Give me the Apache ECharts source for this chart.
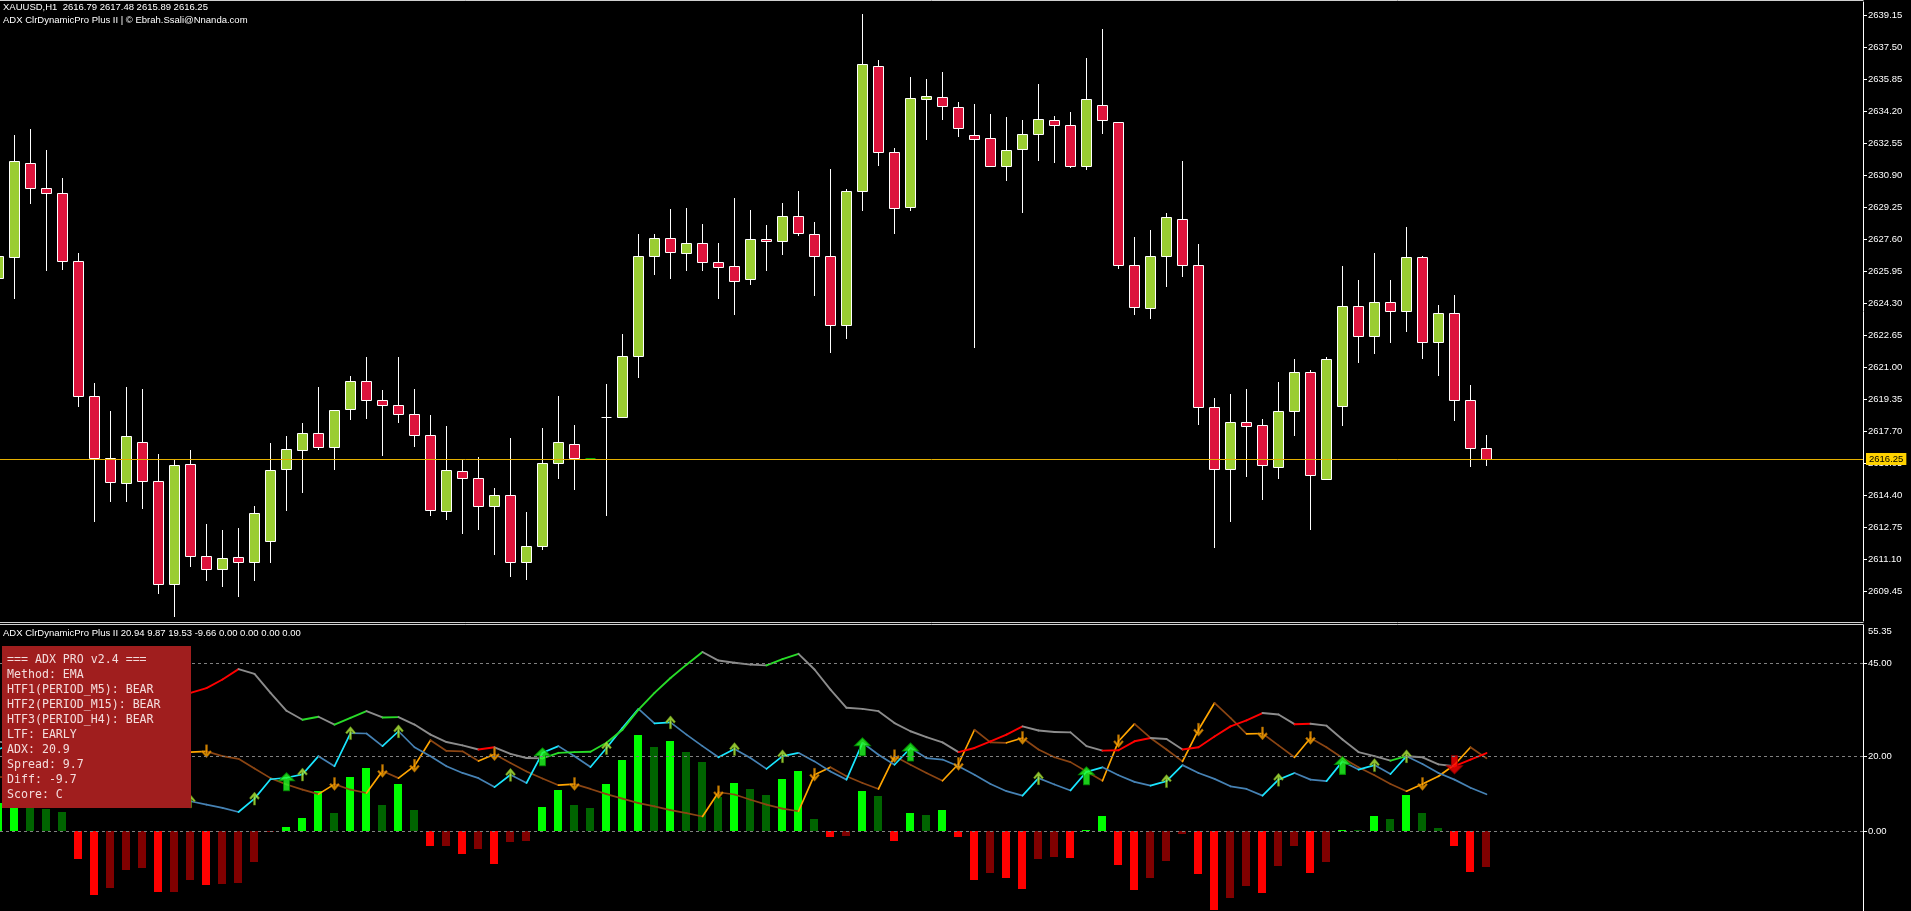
<!DOCTYPE html>
<html><head><meta charset="utf-8">
<script src="https://cdn.jsdelivr.net/npm/echarts@6/dist/echarts.min.js"></script>
<style>html,body{margin:0;padding:0;background:#000;overflow:hidden}#c{width:1911px;height:911px}</style>
</head><body><div id="c"></div>
<script>
// ---------- price data (XAUUSD H1) ----------
const opens = [2625.56,2626.66,2631.50,2630.22,2629.95,2626.45,2619.46,2616.26,2614.98,2617.10,
2615.08,2609.79,2615.96,2611.22,2610.57,2611.18,2610.91,2611.99,2615.73,2616.71,
2617.56,2616.87,2618.79,2620.23,2619.25,2619.01,2618.54,2617.46,2613.56,2615.59,
2615.25,2613.80,2614.37,2610.91,2611.73,2616.00,2617.02,2616.26,2618.40,2618.38,
2621.53,2626.68,2627.63,2626.86,2627.37,2626.39,2626.19,2625.52,2627.59,2627.49,
2628.77,2627.84,2626.72,2623.16,2630.03,2636.48,2632.07,2629.22,2634.77,2634.90,
2634.37,2632.92,2632.78,2631.34,2632.21,2632.98,2633.72,2633.45,2631.34,2634.47,
2633.59,2626.25,2624.03,2626.72,2628.61,2626.25,2618.89,2615.69,2618.13,2617.99,
2615.84,2618.68,2620.70,2615.18,2618.95,2624.13,2622.59,2624.34,2623.87,2626.66,
2622.24,2623.77,2619.25,2616.79];
const highs = [2627.00,2632.98,2633.27,2632.17,2630.75,2626.88,2620.17,2618.74,2619.97,2619.86,
2616.51,2616.20,2616.71,2612.89,2612.58,2612.68,2613.82,2617.06,2617.42,2618.09,
2619.97,2618.80,2620.51,2621.49,2619.82,2621.53,2619.86,2618.50,2617.93,2616.20,
2616.36,2614.78,2617.32,2613.50,2617.83,2619.50,2617.99,2616.26,2620.11,2622.71,
2627.86,2627.86,2629.12,2629.22,2628.35,2627.39,2629.69,2629.08,2628.31,2629.46,
2630.07,2628.47,2631.19,2630.18,2639.19,2636.85,2632.27,2635.93,2635.83,2636.20,
2634.65,2634.55,2634.04,2633.88,2633.74,2635.59,2633.96,2634.16,2636.95,2638.42,
2633.62,2627.69,2628.06,2628.92,2631.62,2627.35,2619.42,2619.60,2619.86,2618.34,
2620.21,2621.43,2620.84,2621.49,2626.21,2625.50,2626.88,2625.50,2628.24,2626.70,
2624.22,2624.72,2620.05,2617.48];
const lows = [2625.00,2624.48,2629.40,2625.97,2626.01,2618.95,2613.01,2614.03,2614.03,2613.66,
2609.29,2608.13,2610.71,2609.96,2609.63,2609.14,2609.94,2610.91,2613.56,2614.51,
2616.71,2615.69,2618.28,2618.34,2616.41,2618.09,2616.87,2613.31,2613.11,2612.40,
2612.58,2611.32,2610.16,2610.04,2611.58,2615.23,2614.64,2616.26,2613.29,2618.38,
2620.41,2625.72,2625.52,2625.97,2625.97,2624.48,2623.67,2625.21,2625.93,2626.78,
2627.74,2624.68,2621.73,2622.45,2629.06,2631.36,2627.84,2629.06,2632.72,2633.76,
2632.88,2621.96,2631.30,2630.60,2628.92,2631.62,2631.52,2631.25,2631.15,2633.02,
2626.07,2623.69,2623.48,2625.11,2625.62,2618.03,2611.67,2613.01,2615.33,2614.13,
2615.23,2617.42,2612.60,2615.18,2617.93,2621.19,2621.65,2622.22,2622.81,2621.43,
2620.53,2618.20,2615.84,2615.89];
const closes = [2626.72,2631.60,2630.20,2629.95,2626.45,2619.46,2616.26,2615.04,2617.40,2615.08,
2609.79,2615.90,2611.22,2610.57,2611.12,2610.91,2613.46,2615.65,2616.75,2617.56,
2616.87,2618.74,2620.23,2619.25,2619.01,2618.54,2617.46,2613.60,2615.65,2615.25,
2613.80,2614.37,2610.91,2611.73,2616.00,2617.12,2616.26,2616.26,2618.40,2621.53,
2626.68,2627.63,2626.92,2627.37,2626.41,2626.13,2625.42,2627.59,2627.49,2628.77,
2627.90,2626.70,2623.16,2630.05,2636.58,2632.07,2629.18,2634.83,2634.94,2634.41,
2633.29,2632.74,2631.34,2632.17,2632.98,2633.76,2633.43,2631.34,2634.79,2633.70,
2626.23,2624.09,2626.72,2628.71,2626.23,2618.89,2615.69,2618.13,2617.95,2615.90,
2618.68,2620.74,2615.39,2621.37,2624.13,2622.59,2624.34,2623.87,2626.66,2622.24,
2623.77,2619.25,2616.77,2616.25];

// ---------- indicator data ----------
const adx = [24.0,23.4,23.0,22.6,23.3,24.6,26.4,28.3,30.0,31.6,
33.4,35.1,37.1,38.4,40.7,43.5,42.2,37.1,32.3,29.9,
30.7,28.6,30.4,32.2,30.5,30.6,28.6,25.9,23.9,23.0,
21.9,22.5,20.7,19.6,19.5,21.0,21.2,21.3,23.7,27.2,
32.6,37.1,41.1,44.7,48.1,45.8,45.2,44.7,44.5,46.2,
47.6,43.4,38.0,33.1,32.8,32.2,29.0,26.8,25.2,23.8,
21.2,22.3,24.1,25.9,28.1,27.0,26.6,26.5,22.8,21.6,
21.7,24.1,25.0,24.7,21.9,22.5,25.4,28.1,29.7,31.7,
31.3,28.7,28.8,28.3,24.6,21.2,20.1,18.9,20.1,19.8,
17.9,17.4,19.2,20.94];
const plusDI = [22.0,23.5,21.8,20.6,19.0,14.5,11.0,11.8,12.8,12.0,
9.6,9.0,8.0,7.1,6.2,5.1,8.7,13.9,14.3,15.2,
20.1,17.4,26.3,26.2,22.8,26.8,22.5,20.1,17.4,15.6,
14.2,11.8,15.1,12.9,21.0,22.8,20.1,17.2,22.3,27.7,
32.8,28.9,29.2,25.9,22.8,19.8,22.0,19.6,16.7,20.1,
21.0,18.7,16.0,13.8,23.7,20.5,17.8,22.3,19.6,19.2,
17.4,15.1,12.6,10.7,9.5,14.2,12.5,10.9,15.9,17.1,
15.0,13.2,12.2,13.4,17.7,15.6,14.0,12.0,11.3,9.5,
13.8,15.6,13.8,13.4,18.7,16.5,17.7,15.3,20.1,18.0,
15.6,13.8,11.6,9.87];
const minusDI = [14.5,14.5,15.2,14.6,13.8,21.9,28.3,27.0,23.2,21.9,
26.1,25.3,21.2,21.4,20.1,19.4,16.8,14.2,12.5,11.1,
9.9,12.6,11.1,10.2,16.1,14.2,17.5,24.4,21.5,21.4,
18.8,20.6,18.3,16.0,14.1,12.3,12.6,11.3,9.9,8.7,
7.5,6.6,5.6,4.8,3.9,10.4,9.8,8.4,7.1,6.0,
5.3,15.1,17.1,14.7,12.9,11.3,20.1,17.8,15.6,13.5,
18.0,27.2,23.8,23.7,25.0,21.9,19.8,18.5,16.0,13.5,
24.1,28.8,25.0,21.9,18.7,27.2,34.4,30.4,26.1,26.2,
23.0,19.8,25.0,22.5,19.6,17.1,15.0,12.6,10.7,12.6,
14.7,17.8,22.5,19.53];
const hist = [7.5,9.0,6.6,6.0,5.2,-7.4,-17.3,-15.2,-10.4,-9.9,
-16.5,-16.3,-13.1,-14.6,-14.2,-14.1,-8.2,-0.3,1.2,3.6,
10.8,4.7,14.6,17.0,7.1,12.7,5.7,-4.1,-4.0,-6.1,
-4.8,-8.8,-2.9,-2.8,6.5,11.1,7.1,6.3,12.7,19.2,
25.9,22.7,24.3,21.3,18.6,9.2,13.0,11.4,9.8,14.1,
16.0,3.3,-1.5,-1.3,10.8,9.5,-2.6,4.9,4.4,5.7,
-1.5,-13.1,-11.2,-12.5,-15.5,-7.4,-6.9,-7.2,0.2,3.9,
-9.1,-15.8,-12.5,-8.0,-0.7,-11.5,-21.2,-17.9,-14.7,-16.6,
-9.3,-3.9,-11.2,-8.2,0.3,0.15,3.9,3.3,9.8,4.9,
0.9,-3.9,-10.9,-9.66];
const upArrows = [12,16,19,22,25,32,38,42,46,49,65,73,80,86,88];
const bigUpArrows = [18,34,54,57,68,84];
const downArrows = [13,21,24,26,31,36,45,51,56,60,64,70,75,79,82,89];
const bigDownArrows = [91];

// ---------- axes / labels ----------
const priceTicks = [2639.15,2637.50,2635.85,2634.20,2632.55,2630.90,2629.25,2627.60,2625.95,2624.30,
2622.65,2621.00,2619.35,2617.70,2616.05,2614.40,2612.75,2611.10,2609.45];
const priceMin = 2607.90, priceMax = 2639.82, lastPrice = 2616.25;
const subTicks = [0, 20, 45];
const subLevels = [45, 20, 0];
const subMin = -21.5, subMax = 55.35;
const xMin = 0.09375, xMax = 116.53125; // bar-index range shown (16 px per bar)
const titleLine1 = 'XAUUSD,H1  2616.79 2617.48 2615.89 2616.25';
const titleLine2 = 'ADX ClrDynamicPro Plus II | \u00A9 Ebrah.Ssali@Nnanda.com';
const subTitle = 'ADX ClrDynamicPro Plus II 20.94 9.87 19.53 -9.66 0.00 0.00 0.00 0.00';
const infoLines = ['=== ADX PRO v2.4 ===','Method: EMA','HTF1(PERIOD_M5): BEAR','HTF2(PERIOD_M15): BEAR',
'HTF3(PERIOD_H4): BEAR','LTF: EARLY','ADX: 20.9','Spread: 9.7','Diff: -9.7','Score: C'];

const FONT = '"Liberation Sans", Arial, sans-serif';
const chart = echarts.init(document.getElementById('c'), null, {renderer: 'canvas'});
const snap = v => Math.round(v - 0.5) + 0.5;

function candleSeries() {
  return {
    type: 'custom', xAxisIndex: 0, yAxisIndex: 0, z: 2, clip: true, silent: true,
    data: opens.map((o, i) => [i, o, highs[i], lows[i], closes[i]]),
    encode: {x: 0, y: [1, 2, 3, 4]},
    renderItem: (params, api) => {
      const i = api.value(0), o = api.value(1), h = api.value(2), l = api.value(3), c = api.value(4);
      const x = snap(api.coord([i, o])[0]);
      const yO = api.coord([i, o])[1], yC = api.coord([i, c])[1];
      const yH = api.coord([i, h])[1], yL = api.coord([i, l])[1];
      const half = api.size([1, 0])[0] * 0.3125;
      const kids = [];
      if (h !== l) kids.push({type: 'line', shape: {x1: x, y1: Math.round(yH), x2: x, y2: Math.round(yL)},
        style: {stroke: '#ffffff', lineWidth: 1}});
      if (o === c) {
        kids.push({type: 'line', shape: {x1: x - half, y1: snap(yO), x2: x + half, y2: snap(yO)},
          style: {stroke: h === l ? '#00b000' : '#ffffff', lineWidth: 1}});
      } else {
        const top = snap(Math.min(yO, yC)), bot = snap(Math.max(yO, yC));
        kids.push({type: 'rect', shape: {x: x - half, y: top, width: 2 * half, height: Math.max(1, bot - top)},
          style: {fill: c > o ? '#9acd32' : '#dc143c', stroke: '#ffffff', lineWidth: 1}});
      }
      return {type: 'group', children: kids};
    }
  };
}
function histSeries() {
  return {
    type: 'custom', xAxisIndex: 1, yAxisIndex: 1, z: 2, clip: true, silent: true,
    data: hist.map((v, i) => [i, v]),
    encode: {x: 0, y: 1},
    renderItem: (params, api) => {
      const i = api.value(0), v = api.value(1);
      const cx = api.coord([i, 0])[0];
      const y0 = Math.round(api.coord([i, 0])[1]), y1 = Math.round(api.coord([i, v])[1]);
      const w = api.size([1, 0])[0] * 0.5;
      const left = Math.round(cx - w / 2 - 0.5);
      return {type: 'rect', shape: {x: left, y: Math.min(y0, y1), width: w, height: Math.max(1, Math.abs(y1 - y0))},
        style: {fill: histColor(i)}};
    }
  };
}
function segSeries(vals, colorFn, width, z) {
  return {
    type: 'custom', xAxisIndex: 1, yAxisIndex: 1, clip: true, z: z, silent: true,
    data: vals.slice(0, -1).map((v, i) => [i, v, vals[i + 1]]),
    encode: {x: 0, y: [1, 2]},
    renderItem: (params, api) => {
      const i = api.value(0);
      const p1 = api.coord([i, api.value(1)]);
      const p2 = api.coord([i + 1, api.value(2)]);
      return {type: 'line', shape: {x1: p1[0], y1: p1[1], x2: p2[0], y2: p2[1]},
        style: {stroke: colorFn(i), lineWidth: width, lineCap: 'round'}};
    }
  };
}
const adxColor = i => adx[i + 1] > adx[i] ? (plusDI[i + 1] > minusDI[i + 1] ? '#28dc28' : '#ff0000') : '#8c8c8c';
const pdiColor = i => plusDI[i + 1] > plusDI[i] ? '#19e6ff' : '#4682b4';
const mdiColor = i => minusDI[i + 1] > minusDI[i] ? '#ffa500' : '#8b4513';
function histColor(i) {
  const v = hist[i], p = i > 0 ? hist[i - 1] : 0;
  const bright = i === 0 || Math.sign(p) !== Math.sign(v) || Math.abs(v) > Math.abs(p);
  return v >= 0 ? (bright ? '#00ff00' : '#006400') : (bright ? '#ff0000' : '#800000');
}

const smallUp = 'path://M5,0 L10,6 L8.6,7.4 L6,4.4 L6,13 L4,13 L4,4.4 L1.4,7.4 L0,6 Z';
const smallDown = 'path://M5,13 L10,7 L8.6,5.6 L6,8.6 L6,0 L4,0 L4,8.6 L1.4,5.6 L0,7 Z';
const bigUp = 'path://M8,0 L16,8 L11,8 L11,18 L5,18 L5,8 L0,8 Z';
const bigDown = 'path://M8,18 L16,10 L11,10 L11,0 L5,0 L5,10 L0,10 Z';

const option = {
  backgroundColor: '#000000',
  animation: false,
  grid: [
    {left: 0, right: 48, top: 2, height: 619},
    {left: 0, right: 48, top: 625, height: 286}
  ],
  xAxis: [
    {type: 'value', gridIndex: 0, min: xMin, max: xMax, show: false, splitLine: {show: false}},
    {type: 'value', gridIndex: 1, min: xMin, max: xMax, show: false, splitLine: {show: false}}
  ],
  yAxis: [
    {type: 'value', gridIndex: 0, position: 'right', min: priceMin, max: priceMax,
      splitLine: {show: false},
      axisLine: {show: true, lineStyle: {color: '#ffffff', width: 1}},
      axisTick: {show: true, inside: false, length: 4, lineStyle: {color: '#ffffff'}, customValues: priceTicks},
      axisLabel: {show: true, margin: 5, color: '#ffffff', fontSize: 9.5, fontFamily: FONT,
        customValues: priceTicks, formatter: v => Number(v).toFixed(2)}},
    {type: 'value', gridIndex: 1, position: 'right', min: subMin, max: subMax,
      splitLine: {show: false},
      axisLine: {show: true, lineStyle: {color: '#ffffff', width: 1}},
      axisTick: {show: true, inside: false, length: 4, lineStyle: {color: '#ffffff'}, customValues: subTicks},
      axisLabel: {show: true, margin: 5, color: '#ffffff', fontSize: 9.5, fontFamily: FONT,
        customValues: subTicks, formatter: v => Number(v).toFixed(2)}}
  ],
  series: [
    {type: 'line', xAxisIndex: 0, yAxisIndex: 0, data: [], z: 1, silent: true,
      markLine: {silent: true, symbol: ['none', 'none'], animation: false,
        lineStyle: {color: '#e6b000', width: 1, type: 'solid'},
        label: {show: true, position: 'end', distance: 3, formatter: () => lastPrice.toFixed(2),
          backgroundColor: '#ffd200', color: '#000000', fontSize: 9.5, fontFamily: FONT, padding: [1, 3, 1, 3]},
        data: [{yAxis: lastPrice}]}},
    candleSeries(),
    {type: 'line', xAxisIndex: 1, yAxisIndex: 1, data: [], z: 1, silent: true,
      markLine: {silent: true, symbol: ['none', 'none'], animation: false, label: {show: false},
        lineStyle: {color: '#808080', width: 1, type: [3, 3]},
        data: subLevels.map(v => ({yAxis: v}))}},
    histSeries(),
    segSeries(minusDI, mdiColor, 1.7, 3),
    segSeries(plusDI, pdiColor, 1.7, 3),
    segSeries(adx, adxColor, 1.9, 3),
    {type: 'scatter', xAxisIndex: 1, yAxisIndex: 1, z: 4, silent: true, symbol: smallUp, symbolSize: [10, 13],
      itemStyle: {color: '#b4f03c', borderColor: '#5c8a14', borderWidth: 0.6},
      data: upArrows.map(i => [i, plusDI[i]])},
    {type: 'scatter', xAxisIndex: 1, yAxisIndex: 1, z: 4, silent: true, symbol: bigUp, symbolSize: [16, 18],
      symbolOffset: [0, 4], itemStyle: {color: '#22ff22', borderColor: '#009000', borderWidth: 1},
      data: bigUpArrows.map(i => [i, plusDI[i]])},
    {type: 'scatter', xAxisIndex: 1, yAxisIndex: 1, z: 4, silent: true, symbol: smallDown, symbolSize: [10, 13],
      itemStyle: {color: '#ffa500', borderColor: '#9a5a00', borderWidth: 0.6},
      data: downArrows.map(i => [i, minusDI[i]])},
    {type: 'scatter', xAxisIndex: 1, yAxisIndex: 1, z: 4, silent: true, symbol: bigDown, symbolSize: [16, 18],
      itemStyle: {color: '#ff0000', borderColor: '#a00000', borderWidth: 1},
      data: bigDownArrows.map(i => [i, minusDI[i]])}
  ],
  graphic: [
    {type: 'line', z: 50, shape: {x1: 0, y1: 0.5, x2: 1863.5, y2: 0.5}, style: {stroke: '#d0d0d0', lineWidth: 1}},
    {type: 'line', z: 50, shape: {x1: 0, y1: 622.5, x2: 1863.5, y2: 622.5}, style: {stroke: '#d0d0d0', lineWidth: 1}},
    {type: 'line', z: 50, shape: {x1: 0, y1: 624.5, x2: 1863.5, y2: 624.5}, style: {stroke: '#d0d0d0', lineWidth: 1}},
    {type: 'text', z: 50, x: 3, y: 2, style: {text: titleLine1, fill: '#ffffff', fontSize: 9.5, fontFamily: FONT}},
    {type: 'text', z: 50, x: 3, y: 15, style: {text: titleLine2, fill: '#ffffff', fontSize: 9.5, fontFamily: FONT}},
    {type: 'text', z: 50, x: 3, y: 628.5, style: {text: subTitle, fill: '#ffffff', fontSize: 9.5, fontFamily: FONT}},
    {type: 'text', z: 50, x: 1868, y: 626.5, style: {text: subMax.toFixed(2), fill: '#ffffff', fontSize: 9.5, fontFamily: FONT}},
    {type: 'rect', z: 100, shape: {x: 2, y: 646, width: 189, height: 162}, style: {fill: '#a01e1e'}},
    {type: 'text', z: 101, x: 7, y: 652, style: {text: infoLines.join('\n'), fill: '#f3dcdc',
      fontSize: 11.6, lineHeight: 15, fontFamily: '"DejaVu Sans Mono", "Liberation Mono", monospace'}}
  ]
};
chart.setOption(option);
</script>
</body></html>
